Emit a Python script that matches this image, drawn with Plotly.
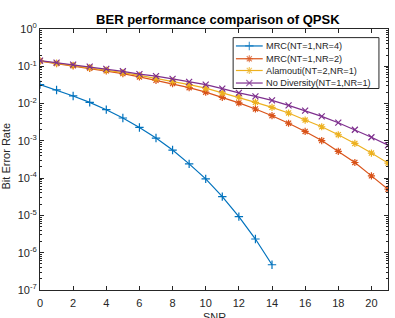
import plotly.graph_objects as go

snr = list(range(0, 22))
snr_mrc4 = list(range(0, 15))

ber_mrc4 = [0.0322, 0.0232, 0.0160, 0.0108, 0.00686, 0.00410, 0.00229, 0.00119,
            0.000566, 0.000242, 9.57e-5, 3.2e-5, 9.29e-6, 2.33e-6, 4.75e-7]
ber_mrc2 = [0.1379, 0.1183, 0.1025, 0.0884, 0.0752, 0.0637, 0.0519, 0.0421,
            0.0343, 0.0267, 0.0202, 0.0147, 0.0104, 0.00716, 0.00473, 0.00297,
            0.00179, 0.00102, 0.000525, 0.000263, 0.000115, 5.06e-5]
ber_alam = [0.1397, 0.1219, 0.1064, 0.0923, 0.0791, 0.0677, 0.0569, 0.0476,
            0.0400, 0.0322, 0.0259, 0.0193, 0.0150, 0.0108, 0.00791, 0.00559,
            0.00362, 0.00239, 0.00146, 0.000851, 0.000470, 0.000253]
ber_nodiv = [0.1423, 0.1257, 0.1111, 0.0982, 0.0851, 0.0734, 0.0617, 0.0545,
             0.0458, 0.0381, 0.0322, 0.0252, 0.0193, 0.0156, 0.0122, 0.00895,
             0.00644, 0.00453, 0.00307, 0.00199, 0.00125, 0.000762]

names = ["MRC(NT=1,NR=4)", "MRC(NT=1,NR=2)", "Alamouti(NT=2,NR=1)", "No Diversity(NT=1,NR=1)"]
colors = ["#0072BD", "#D95319", "#EDB120", "#7E2F8E"]
symbols = ["cross-thin-open", "asterisk-open", "asterisk-open", "x-thin-open"]
xs = [snr_mrc4, snr, snr, snr]
ys = [ber_mrc4, ber_mrc2, ber_alam, ber_nodiv]

y_exps = list(range(-7, 1))
y_tickvals = [10.0 ** e for e in y_exps]
y_ticktext = ["10<sup>%d</sup>" % e for e in y_exps]
y_minor = [m * 10.0 ** e for e in range(-7, 0) for m in range(2, 10)]

FONT = "Liberation Sans, Arial"
AX = "#262626"

fig = go.Figure()
for x, y, n, c, s in zip(xs, ys, names, colors, symbols):
    fig.add_trace(go.Scatter(
        x=x, y=y, name=n, mode="lines+markers", showlegend=False,
        line=dict(color=c, width=1.2),
        marker=dict(symbol=s, size=6, color=c, line=dict(color=c, width=1.2)),
    ))

axis_common = dict(
    showline=True, linecolor=AX, linewidth=1, mirror="ticks",
    ticks="inside", ticklen=4, tickcolor=AX, showgrid=False, zeroline=False,
    tickfont=dict(family=FONT, size=11, color=AX), automargin=False,
)

fig.update_layout(
    width=395, height=318,
    margin=dict(l=40, r=7, t=29, b=28),
    paper_bgcolor="white", plot_bgcolor="white",
    title=dict(text="<b>BER performance comparison of QPSK</b>", xref="paper", x=0.511,
               xanchor="center", y=0.94, yanchor="middle",
               font=dict(family=FONT, size=13, color="black")),
    xaxis=dict(range=[0, 21], tick0=0, dtick=2, ticklabelstandoff=3, **axis_common),
    yaxis=dict(type="log", range=[-7, 0], tickmode="array", tickvals=y_tickvals,
               ticktext=y_ticktext,
               minor=dict(ticks="inside", ticklen=2, tickcolor=AX, showgrid=False,
                          tickmode="array", tickvals=y_minor),
               **axis_common),
    xaxis2=dict(overlaying="x", range=[0, 1], visible=False),
    yaxis2=dict(overlaying="y", range=[0, 1], visible=False),
    showlegend=False,
)

fig.add_annotation(text="Bit Error Rate", textangle=-90, xref="paper", yref="paper",
                   x=-0.098, y=0.515, xanchor="center", yanchor="middle", showarrow=False,
                   font=dict(family=FONT, size=11, color=AX))
fig.add_annotation(text="SNR", xref="paper", yref="paper", x=0.5, y=-0.074,
                   xanchor="center", yanchor="top", showarrow=False,
                   font=dict(family=FONT, size=11, color=AX))

# custom legend (MATLAB-like compact box), drawn on an invisible overlay axis
leg_x0, leg_x1, leg_y0, leg_y1 = 0.555, 0.974, 0.772, 0.967
row_y = [0.935, 0.886, 0.841, 0.793]
fig.add_shape(type="rect", xref="x2", yref="y2", x0=leg_x0, x1=leg_x1, y0=leg_y0, y1=leg_y1,
              line=dict(color=AX, width=1), fillcolor="white", layer="below")
for n, c, s, ry in zip(names, colors, symbols, row_y):
    fig.add_trace(go.Scatter(
        x=[0.563, 0.6015, 0.640], y=[ry, ry, ry], xaxis="x2", yaxis="y2",
        mode="lines+markers", showlegend=False, hoverinfo="skip",
        line=dict(color=c, width=1.2),
        marker=dict(symbol=s, size=[0, 6, 0], color=c, line=dict(color=c, width=1.2)),
    ))
    fig.add_annotation(x=0.645, y=ry, xref="x2", yref="y2", text=n, showarrow=False,
                       xanchor="left", yanchor="middle",
                       font=dict(family=FONT, size=9.2, color=AX))

fig.write_html("out.html")
